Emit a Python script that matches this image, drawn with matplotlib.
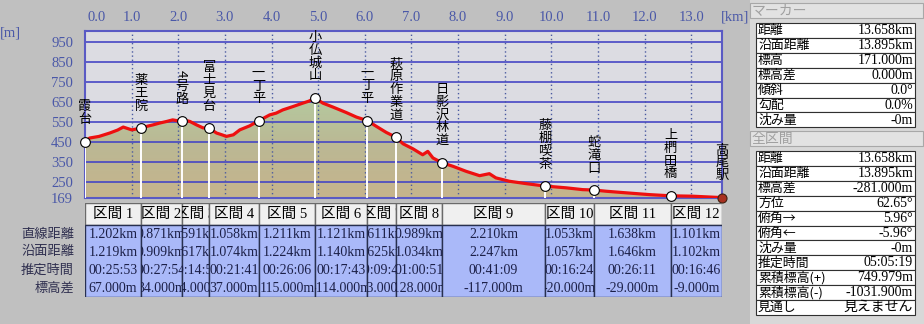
import matplotlib.pyplot as plt
import numpy as np
from matplotlib.patches import Rectangle
from matplotlib.colors import LinearSegmentedColormap
from matplotlib.transforms import Bbox, TransformedBbox

CJK = ['Noto Sans CJK JP', 'DejaVu Sans']
NUM = ['Liberation Serif', 'Noto Sans CJK JP']

# elevation profile (km, m)
dist_km = [0.00, 0.10, 0.30, 0.53, 0.70, 0.82, 1.00, 1.10, 1.202, 1.35, 1.46, 1.60,
           1.75, 1.88, 2.073, 2.20, 2.25, 2.39, 2.53, 2.664, 2.82, 2.95, 3.03, 3.18,
           3.32, 3.53, 3.722, 3.96, 4.10, 4.24, 4.46, 4.67, 4.80, 4.933, 5.10, 5.32,
           5.60, 5.82, 6.054, 6.25, 6.46, 6.665, 6.82, 7.03, 7.24, 7.35, 7.46, 7.654,
           7.89, 8.17, 8.46, 8.67, 8.81, 9.10, 9.46, 9.864, 10.32, 10.67, 10.917,
           11.17, 11.60, 12.10, 12.555, 13.03, 13.658]
elev_m = [452, 470, 478, 495, 510, 525, 511, 515, 519, 530, 536, 545,
          553, 561, 553, 556, 553, 536, 521, 519, 495, 485, 478, 486,
          511, 531, 556, 586, 595, 611, 628, 645, 655, 671, 645, 625,
          598, 575, 557, 528, 498, 474, 441, 416, 386, 403, 370, 346,
          328, 303, 281, 291, 270, 253, 241, 229, 220, 211, 209,
          203, 195, 186, 180, 178, 171]

# waypoints
wp_names = ['霞台', '薬王院', '4号路', '富士見台', '一丁平', '小仏城山', '一丁平',
            '萩原作業道', '日影沢林道', '藤棚喫茶', '蛇滝口', '上椚田橋', '高尾駅']
wp_elev = [452, 519, 553, 519, 556, 671, 557, 474, 346, 229, 209, 180, 171]

# sections
sec_dist = [1.202, 0.871, 0.591, 1.058, 1.211, 1.121, 0.611, 0.989, 2.210, 1.053, 1.638, 1.101]
sec_surf = [1.219, 0.909, 0.617, 1.074, 1.224, 1.140, 0.625, 1.034, 2.247, 1.057, 1.646, 1.102]
sec_time = ['00:25:53', '00:27:54', '00:14:56', '00:21:41', '00:26:06', '00:17:43',
            '00:09:45', '01:00:51', '00:41:09', '00:16:24', '00:26:11', '00:16:46']
sec_dh = [67, 34, -34, 37, 115, -114, -83, -128, -117, -20, -29, -9]
row_names = ['直線距離', '沿面距離', '推定時間', '標高差']

# side panel
marker_labels = ['距離', '沿面距離', '標高', '標高差', '傾斜', '勾配', '沈み量']
marker_values = ['13.658km', '13.895km', '171.000m', '0.000m', '0.0°', '0.0%', '-0m']
total_labels = ['距離', '沿面距離', '標高差', '方位', '俯角→', '俯角←', '沈み量',
                '推定時間', '累積標高(+)', '累積標高(-)', '見通し']
total_values = ['13.658km', '13.895km', '-281.000m', '62.65°', '5.96°', '-5.96°', '-0m',
                '05:05:19', '749.979m', '-1031.900m', '見えません']

xticks_km = list(range(0, 14))
yticks_m = [169, 250, 350, 450, 550, 650, 750, 850, 950]
XMAX = 13.658

W, H = 924, 324
fig = plt.figure(figsize=(W / 100, H / 100), dpi=100)
fig.patch.set_facecolor('#c0c0c0')


def px_axes(l, t, r, b):
    return fig.add_axes([l / W, 1 - b / H, (r - l) / W, (b - t) / H])


# overlay in pixel coords for the side panel
ov = px_axes(0, 0, W, H)
ov.set_xlim(0, W)
ov.set_ylim(H, 0)
ov.axis('off')
ov.add_patch(Rectangle((750, 0), 174, H, facecolor='#d8d8d8', edgecolor='none'))


def panel(top, title, labels, values):
    ov.add_patch(Rectangle((750, top), 173, 15, facecolor='#e2e2e2', edgecolor='#a8a8a8', lw=0.8))
    ov.text(752, top + 7.5, title, family=CJK, fontsize=10, color='#a0a0a0', va='center')
    y0 = top + 20
    for i, (lab, val) in enumerate(zip(labels, values)):
        y = y0 + 14.9 * i
        ov.add_patch(Rectangle((756, y), 159, 14.9, facecolor='white', edgecolor='#303030', lw=0.8))
        ov.text(758, y + 7.6, lab, family=CJK, fontsize=9.3, va='center', color='black')
        ov.text(913, y + 7.6, val, family=NUM, fontsize=10, va='center', ha='right', color='black')


panel(3, 'マーカー', marker_labels, marker_values)
panel(131, '全区間', total_labels, total_values)

# main profile
ax = px_axes(85, 31, 722, 198)
ax.set_facecolor('#dcdce2')

grad_cmap = LinearSegmentedColormap.from_list('terr', ['#c6b48c', '#bbb894', '#b4cba0'])
grad = np.linspace(0, 1, 256).reshape(-1, 1)
img = ax.imshow(grad, cmap=grad_cmap, extent=[0, XMAX, 169, 700], origin='lower',
                aspect='auto', zorder=1)
poly = ax.fill_between(dist_km, elev_m, 169, facecolor='none', edgecolor='none')
img.set_clip_path(poly.get_paths()[0], transform=ax.transData)

for y in yticks_m[1:]:
    ax.axhline(y, color='#4646c4', lw=1.2, zorder=2)
for x in xticks_km[1:]:
    ax.axvline(x, color='#4a5aa0', lw=1, ls=(0, (1, 2)), zorder=2)

wp_km = np.concatenate([[0], np.cumsum(sec_dist)])
ax.vlines(wp_km, 169, wp_elev, color='white', lw=1.4, zorder=3)
ax.plot(dist_km, elev_m, color='#ee1010', lw=2.3, zorder=4, solid_joinstyle='round')
ax.plot(wp_km[:-1], wp_elev[:-1], 'o', ms=7, mfc='white', mec='black', mew=0.8,
        zorder=5, clip_on=False)
ax.plot(wp_km[-1], wp_elev[-1], 'o', ms=6.5, mfc='#a83020', mec='#402010', mew=0.8,
        zorder=6, clip_on=False)

for name, x, y in zip(wp_names, wp_km, wp_elev):
    n = len(name)
    for i, ch in enumerate(name):
        off = 22 + 12.8 * (n - 1 - i)
        ax.annotate(ch, (x, y), xytext=(0, off * 0.72), textcoords='offset points',
                    ha='center', va='center', fontsize=9.5, family=CJK,
                    rotation=-90 if ch.isascii() else 0, zorder=7, annotation_clip=False)

ax.set_xlim(0, XMAX)
ax.set_ylim(169, 1007)
ax.set_xticks([])
ax.set_yticks(yticks_m)
ax.tick_params(axis='y', length=0, pad=8.6, labelcolor='#4a58a8', labelsize=10.5)
for lab in ax.get_yticklabels():
    lab.set_fontfamily(NUM)
for sp in ax.spines.values():
    sp.set_color('#5a5ac4')
    sp.set_linewidth(1.5)

for k in xticks_km:
    ax.annotate(f'{k:.1f}', (k, 1), xycoords=('data', 'axes fraction'),
                xytext=(12 * 0.72 if k == 0 else 0, 14 * 0.72), textcoords='offset points',
                ha='center', va='center', fontsize=10.5, family=NUM, color='#4a58a8',
                annotation_clip=False)
fig.text(735 / W, 1 - 17 / H, '[km]', ha='center', va='center', fontsize=10.5,
         family=NUM, color='#4a58a8')
fig.text(10 / W, 1 - 33 / H, '[m]', ha='center', va='center', fontsize=10.5,
         family=NUM, color='#4a58a8')

# section table
tab = px_axes(85, 203, 722, 297)
tab.set_xlim(0, XMAX)
tab.set_ylim(94, 0)
tab.axis('off')
for i in range(len(sec_dist)):
    x0, x1 = wp_km[i], wp_km[i + 1]
    tab.add_patch(Rectangle((x0, 0), x1 - x0, 22, facecolor='#f0f0f0', edgecolor='#6a6a6a', lw=1))
    tab.add_patch(Rectangle((x0, 22), x1 - x0, 72, facecolor='#aab9f9', edgecolor='#283050', lw=1))
    xc = (x0 + x1) / 2
    hb = TransformedBbox(Bbox.from_extents(x0, 0, x1, 22), tab.transData)
    t = tab.text(xc, 11.5, f'区間 {i + 1}', ha='center', va='center', family=NUM, fontsize=10.5)
    t.set_clip_box(hb)
    t.set_clip_on(True)
    bb = TransformedBbox(Bbox.from_extents(x0, 22, x1, 94), tab.transData)
    vals = [f'{sec_dist[i]:.3f}km', f'{sec_surf[i]:.3f}km', sec_time[i], f'{sec_dh[i]:.3f}m']
    for r, v in enumerate(vals):
        t = tab.text(xc, 31 + 18 * r, v, ha='center', va='center', family=NUM,
                     fontsize=10, color='#1c2048')
        t.set_clip_box(bb)
        t.set_clip_on(True)

for r, name in enumerate(row_names):
    tab.annotate(name, (0, 31 + 18 * r), xycoords=('axes fraction', 'data'),
                 xytext=(-11 * 0.72, 0), textcoords='offset points', ha='right',
                 va='center', family=CJK, fontsize=9.5, color='#303050',
                 annotation_clip=False)

fig.savefig('out.png', dpi=100, facecolor=fig.get_facecolor())
